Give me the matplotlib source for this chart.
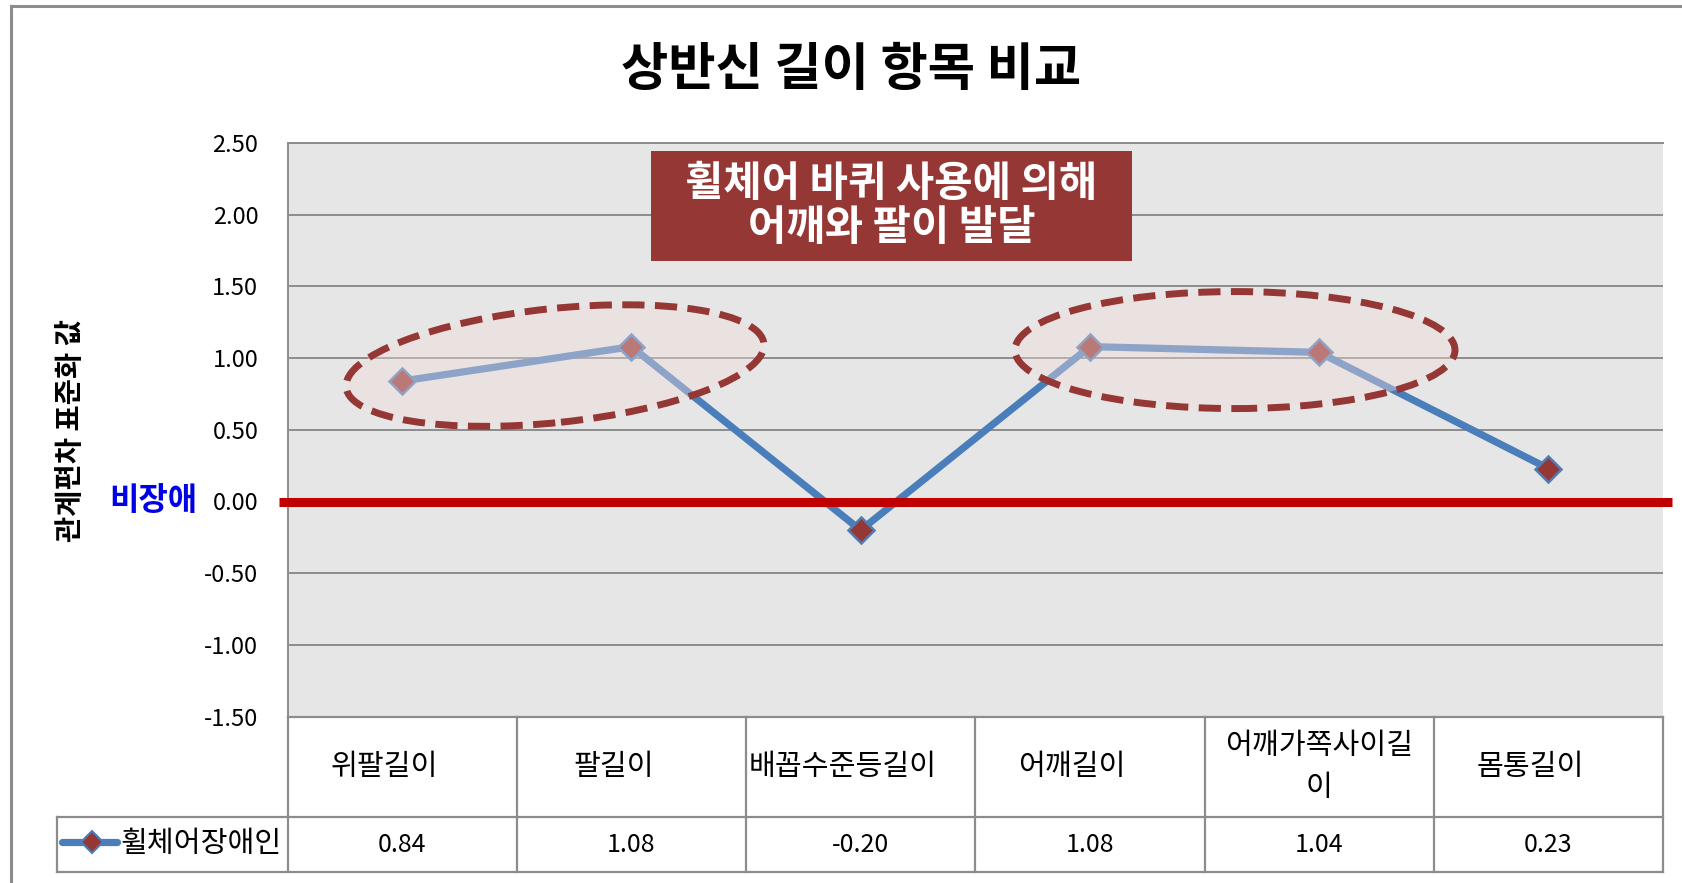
import matplotlib
matplotlib.use("Agg")
import matplotlib.pyplot as plt
import matplotlib.transforms as mtransforms
from matplotlib.patches import Ellipse, Rectangle
from matplotlib.lines import Line2D

plt.rcParams['font.family'] = ['Noto Sans CJK KR', 'DejaVu Sans']

# ---- data ----
categories = ['위팔길이', '팔길이', '배꼽수준등길이', '어깨길이', '어깨가쪽사이길\n이', '몸통길이']
values = [0.84, 1.08, -0.20, 1.08, 1.04, 0.23]
series_name = '휠체어장애인'
yticks = [-1.5, -1.0, -0.5, 0.0, 0.5, 1.0, 1.5, 2.0, 2.5]
title = '상반신 길이 항목 비교'
ylabel = '관계편차 표준화 값'
baseline_label = '비장애'
note = '휠체어 바퀴 사용에 의해\n어깨와 팔이 발달'

BLUE = "#4A7EBB"; DRED = "#953735"; RED = "#C00000"; GRID = "#8C8C8C"; BG = "#E6E6E6"
W, H = 1682, 883
fig = plt.figure(figsize=(W / 100, H / 100), dpi=100)

def fx(px): return px / W
def fy(py): return 1 - py / H

# plot area (pixel extents)
L, R, T, B = 287.5, 1663, 143, 716.6
ax = fig.add_axes([fx(L), fy(B), fx(R - L), (B - T) / H])
ax.set_facecolor(BG)
n = len(categories)
xs = list(range(n))
ax.set_xlim(-0.5, n - 0.5); ax.set_ylim(yticks[0], yticks[-1])
ax.set_yticks(yticks)
ax.set_yticklabels([f"{v:.2f}" for v in yticks], fontsize=17)
ax.set_xticks([])
ax.tick_params(axis="y", length=0, pad=21)
ax.yaxis.grid(True, color=GRID, lw=1.4); ax.set_axisbelow(True)
for s in ["right", "bottom"]:
    ax.spines[s].set_visible(False)
for s in ["left", "top"]:
    ax.spines[s].set_color(GRID); ax.spines[s].set_linewidth(1.4)

ax.plot(xs, values, color=BLUE, lw=5.2, marker="D", ms=13, mfc=DRED, mec=BLUE, mew=1.8,
        solid_joinstyle="miter", zorder=3)
ax.axhline(0, xmin=(279 - L) / (R - L), xmax=(1672 - L) / (R - L), color=RED, lw=6.5,
           solid_capstyle="butt", clip_on=False, zorder=4)

# highlight ellipses (centre in data units, size in inches)
for cx, cy, w_in, h_in, ang in [(0.667, 0.948, 4.2, 1.14, 6), (3.633, 1.056, 4.4, 1.17, 0)]:
    tr = fig.dpi_scale_trans + mtransforms.ScaledTranslation(cx, cy, ax.transData)
    ax.add_patch(Ellipse((0, 0), w_in, h_in, angle=ang, transform=tr, facecolor="#F2DCDB",
                         alpha=0.4, edgecolor="none", zorder=5, clip_on=False))
    ax.add_patch(Ellipse((0, 0), w_in, h_in, angle=ang, transform=tr, facecolor="none",
                         edgecolor=DRED, lw=5, linestyle=(0, (3.2, 1.5)), zorder=6, clip_on=False))

# note box
fig.patches.append(Rectangle((fx(651), fy(261)), fx(1132 - 651), (261 - 151) / H,
                             transform=fig.transFigure, facecolor=DRED, edgecolor="none", zorder=7))
fig.text(fx(891.5), fy(206), note, ha="center", va="center", color="white", fontsize=30,
         fontweight="bold", linespacing=1.05, zorder=8)

# titles
fig.text(fx(851), fy(70), title, ha="center", va="center", fontsize=37, fontweight="bold")
fig.text(fx(71), fy(430), ylabel, ha="center", va="center", rotation=90, fontsize=20.5,
         fontweight="bold")
fig.text(fx(153.5), fy(501), baseline_label, ha="center", va="center", color="#0000E6",
         fontsize=23, fontweight="bold")

# data table under the plot
TB = 872
tab = fig.add_axes([fx(L), fy(TB), fx(R - L), (TB - B) / H])
tab.set_xlim(-0.5, n - 0.5); tab.set_ylim(TB - B, 0)
tab.axis("off")
row = 817 - B
lk = dict(color=GRID, lw=1.6, clip_on=False)
colw = (R - L) / n
leg_left = -0.5 + (57 - L) / colw
tab.plot([-0.5, n - 0.5], [0, 0], **lk)
tab.plot([leg_left, n - 0.5], [row, row], **lk)
tab.plot([leg_left, n - 0.5], [TB - B, TB - B], **lk)
tab.plot([leg_left, leg_left], [row, TB - B], **lk)
for k in range(n + 1):
    tab.plot([k - 0.5, k - 0.5], [0, TB - B], **lk)
# single-line category labels sit a little left of the cell centre (as in the original)
shift = tab.transData + mtransforms.ScaledTranslation(-0.18, 0, fig.dpi_scale_trans)
for i, (c, v) in enumerate(zip(categories, values)):
    tab.text(i, row / 2, c, ha="center", va="center", fontsize=21, linespacing=1.5,
             transform=tab.transData if "\n" in c else shift)
    tab.text(i, (row + TB - B) / 2, f"{v:.2f}", ha="center", va="center", fontsize=18)
# legend key
lx0, lx1, lm = [-0.5 + (p - L) / colw for p in (62, 117, 92)]
ly = (row + TB - B) / 2 - 3
tab.plot([lx0, lx1], [ly, ly], color=BLUE, lw=5.2, solid_capstyle="round", clip_on=False)
tab.plot([lm], [ly], marker="D", ms=11, mfc=DRED, mec=BLUE, mew=1.5, clip_on=False)
tab.text(-0.5 + (120 - L) / colw, (row + TB - B) / 2, series_name, ha="left", va="center",
         fontsize=21)

# outer chart border (left and top visible)
fig.lines.append(Line2D([fx(11), fx(11)], [fy(6), 0], transform=fig.transFigure, color=GRID, lw=2.2))
fig.lines.append(Line2D([fx(11), 1], [fy(6), fy(6)], transform=fig.transFigure, color=GRID, lw=2.2))

fig.savefig("out.png", dpi=100)
